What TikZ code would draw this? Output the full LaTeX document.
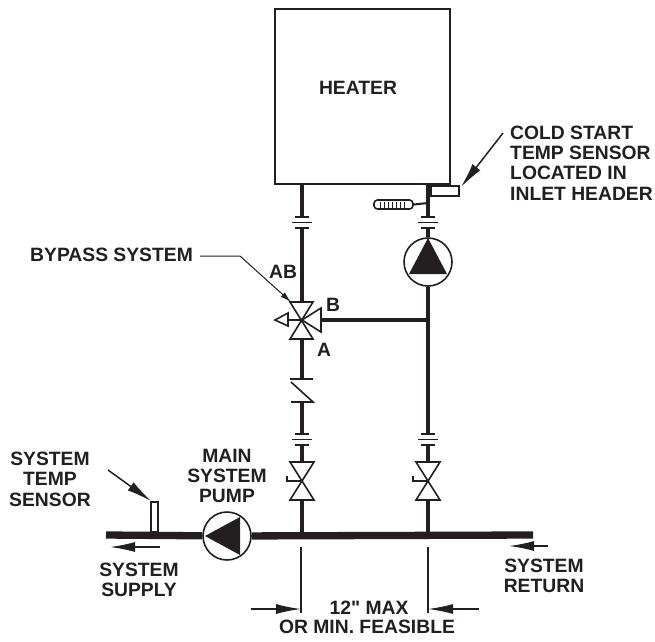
\documentclass[tikz,border=0pt]{standalone}
\usepackage{fontspec}
\newfontfamily\lblfont{Liberation Sans}
\usetikzlibrary{arrows.meta}
\definecolor{ink}{HTML}{231F20}
\tikzstyle{pipe}=[draw=ink, line width=3.8pt]
\tikzstyle{mainpipe}=[draw=ink, line width=7.3pt]
\tikzstyle{thin}=[draw=ink, line width=1.6pt]
\tikzstyle{leader}=[draw=ink, line width=1.5pt, -{Latex[length=25pt,width=10pt]}]
\tikzstyle{dimline}=[draw=ink, line width=1.5pt]
\tikzstyle{pump}=[circle, draw=ink, line width=1.6pt, fill=white, inner sep=0pt, minimum size=48pt]
\tikzstyle{lbl}=[text=ink, inner sep=0pt, font=\lblfont\bfseries\fontsize{19.3}{20.4}\selectfont]
\newcommand{\lbl}{\node[lbl]}
\tikzset{
  flange/.pic={
    \draw[thin] (-7,-5.5) -- (7,-5.5);
    \draw[thin] (-10,0) -- (10,0);
    \draw[thin] (-7,5.5) -- (7,5.5);
  },
  gatevalve/.pic={
    \draw[thin, fill=white] (-12,-19) -- (12,-19) -- (-12,19) -- (12,19) -- cycle;
    \draw[thin] (0,0) -- (-15,0) -- (-15,-5);
  }
}
\begin{document}
\begin{tikzpicture}[x=1pt,y=-1pt]
\useasboundingbox (0,0) rectangle (655,641);
\node[draw=ink, line width=1.6pt, minimum width=175pt, minimum height=175pt, inner sep=0pt] (heater) at (362.5,96.5) {};
\lbl (heaterlbl) at (358,88) {HEATER};
% junctions on the pipes
\coordinate (lefttop) at (302,184);
\coordinate (leftfl) at (302,217);
\coordinate (leftflb) at (302,228);
\coordinate (abport) at (302,302);
\coordinate (aport) at (302,339);
\coordinate (chktop) at (302,379);
\coordinate (chkbot) at (302,402);
\coordinate (leftfl2) at (302,434);
\coordinate (leftfl2b) at (302,445);
\coordinate (leftgate) at (302,462);
\coordinate (leftgateb) at (302,500);
\coordinate (lefttee) at (302,535);
\coordinate (righttop) at (428,184);
\coordinate (rightfl) at (428,217);
\coordinate (rightflb) at (428,228);
\coordinate (branch) at (428,320);
\coordinate (bport) at (321,320);
\coordinate (rightfl2) at (428,434);
\coordinate (rightfl2b) at (428,445);
\coordinate (rightgate) at (428,462);
\coordinate (rightgateb) at (428,500);
\coordinate (righttee) at (428,535);
\coordinate (supply) at (106,535);
\coordinate (return) at (533,535);
\node[pump] (toppump) at (428,262) {};
\node[pump] (mainpump) at (227,536) {};
% piping
\draw[pipe]
(lefttop) -- (leftfl)
(leftflb) -- (abport)
(aport) -- (chktop)
(chkbot) -- (leftfl2)
(leftfl2b) -- (leftgate)
(leftgateb) -- (lefttee)
(righttop) -- (rightfl)
(rightflb) -- (toppump)
(toppump) -- (rightfl2)
(rightfl2b) -- (rightgate)
(rightgateb) -- (righttee)
(bport) -- (branch)
;
\draw[mainpipe]
(supply) -- (mainpump)
(mainpump) -- (return)
;
\fill[ink] (428,238) -- (447,274) -- (409,274) -- cycle;
\fill[ink] (205,536) -- (240,517) -- (240,555) -- cycle;
\pic at (302,222.5) {flange};
\pic at (428,222.5) {flange};
\pic at (302,439.5) {flange};
\pic at (428,439.5) {flange};
\pic at (302,481) {gatevalve};
\pic at (428,481) {gatevalve};
% bypass valve
\coordinate (valve) at (302,320);
\coordinate (actuator) at (288,320);
\draw[thin, fill=white] (290,302) -- (313,302) -- (290,339) -- (313,339) -- cycle;
\draw[thin, fill=white] (valve) -- (321,308) -- (bport) -- (321,332) -- cycle;
\draw[thin] (valve) -- (actuator);
\draw[thin, fill=white] (actuator) -- (288,313) -- (275,320) -- (288,326) -- cycle;
% check valve
\draw[thin] (290,379) -- (313,379);
\draw[thin] (291,402) -- (313,402) -- (291,382);
% sensors
\node[draw=ink, line width=1.4pt, fill=white, minimum width=28pt, minimum height=10pt, inner sep=0pt] (coldsensor) at (445,191) {};
\node[draw=ink, line width=1.6pt, fill=white, rounded corners=3.5pt, minimum width=39pt, minimum height=9pt, inner sep=0pt] (thermo) at (393.5,204.5) {};
\foreach \x in {380,384,388,392,396,400,404}
  \draw[ink, line width=0.9pt] (\x,201.5) -- (\x,207.5);
\coordinate (thermotap) at (428,203);
\draw[ink, line width=2pt] (thermo.east) -- (thermotap);
\node[draw=ink, line width=1.4pt, fill=white, minimum width=7pt, minimum height=30pt, inner sep=0pt] (supplysensor) at (154.5,517) {};
% callouts
\coordinate (coldfrom) at (503,133);
\coordinate (coldto) at (461,187);
\coordinate (tempfrom) at (108,470);
\coordinate (tempto) at (151,501);
\coordinate (bypassfrom) at (200,256);
\coordinate (bypassknee) at (240,256);
\coordinate (bypassto) at (291,302);
\coordinate (supplyfrom) at (160,547);
\coordinate (supplyto) at (110,547);
\coordinate (returnfrom) at (548,546);
\coordinate (returnto) at (509,546);
\draw[leader] (coldfrom) -- (coldto);
\draw[leader] (tempfrom) -- (tempto);
\draw[leader] (supplyfrom) -- (supplyto);
\draw[leader] (returnfrom) -- (returnto);
\draw[ink, line width=1pt, -{Latex[length=11pt,width=6pt]}] (bypassfrom) -- (bypassknee) -- (bypassto);
% dimension
\coordinate (dimlefttop) at (301,547);
\coordinate (dimleftbot) at (301,613);
\coordinate (dimrighttop) at (428,547);
\coordinate (dimrightbot) at (428,613);
\coordinate (dimleftfrom) at (251,609);
\coordinate (dimleftto) at (301,609);
\coordinate (dimrightfrom) at (479,609);
\coordinate (dimrightto) at (428,609);
\draw[dimline]
(dimlefttop) -- (dimleftbot)
(dimrighttop) -- (dimrightbot)
;
\draw[leader] (dimleftfrom) -- (dimleftto);
\draw[leader] (dimrightfrom) -- (dimrightto);
% labels
\lbl (coldlbl) at (510,163) [anchor=west, align=left] {COLD START\\TEMP SENSOR\\LOCATED IN\\INLET HEADER};
\lbl (bypasslbl) at (30,255) [anchor=west] {BYPASS SYSTEM};
\lbl (ablbl) at (283,272) {AB};
\lbl (blbl) at (333,305) {B};
\lbl (albl) at (324,350) {A};
\lbl (pumplbl) at (227,476) [align=center] {MAIN\\SYSTEM\\PUMP};
\lbl (templbl) at (50,479) [align=center] {SYSTEM\\TEMP\\SENSOR};
\lbl (supplylbl) at (139,580) [align=center] {SYSTEM\\SUPPLY};
\lbl (returnlbl) at (544,576) [align=center] {SYSTEM\\RETURN};
\lbl (maxlbl) at (369,608) {12" MAX};
\lbl (minlbl) at (367,627) {OR MIN. FEASIBLE};
\end{tikzpicture}
\end{document}
